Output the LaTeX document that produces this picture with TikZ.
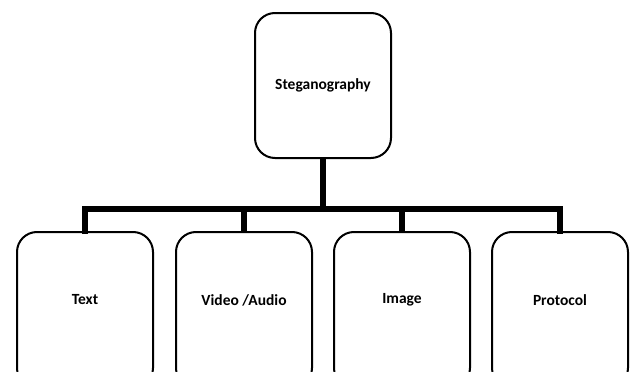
\documentclass[tikz,border=0pt]{standalone}
\usepackage{fontspec}
\setmainfont{Carlito}
\begin{document}
\begin{tikzpicture}[x=1pt,y=-1pt,
  box/.style={draw=black,line width=2pt,rounded corners=20pt,minimum width=136pt,inner sep=0pt,font=\bfseries\fontsize{15.5}{17}\selectfont},
  lbl/.style={font=\bfseries\fontsize{15.5}{17}\selectfont},
  link/.style={line width=6pt}]
\useasboundingbox (0,0) rectangle (630,372);
\begin{scope}
\clip (0,0) rectangle (630,372);
\node[box,minimum height=145pt] (root) at (323,85.5) {Steganography};
\node[box,minimum height=156pt] (text) at (85,310) {};
\node[box,minimum height=156pt] (video) at (244,310) {};
\node[box,minimum height=156pt] (image) at (402,310) {};
\node[box,minimum height=156pt] (proto) at (560,310) {};
\end{scope}
\node[lbl] (tl) at (85,300) {Text};
\node[lbl] (vl) at (244,300) {Video /Audio};
\node[lbl] (il) at (402,300) {Image};
\node[lbl] (pl) at (560,300) {Protocol};
\coordinate (bar) at (323,209);
\draw[link] (root.south) -- (bar);
\draw[link,line cap=rect] (text.north) |- (bar);
\draw[link,line cap=rect] (proto.north) |- (bar);
\draw[link] (video.north) -- (video.north |- bar);
\draw[link] (image.north) -- (image.north |- bar);
\end{tikzpicture}
\end{document}
